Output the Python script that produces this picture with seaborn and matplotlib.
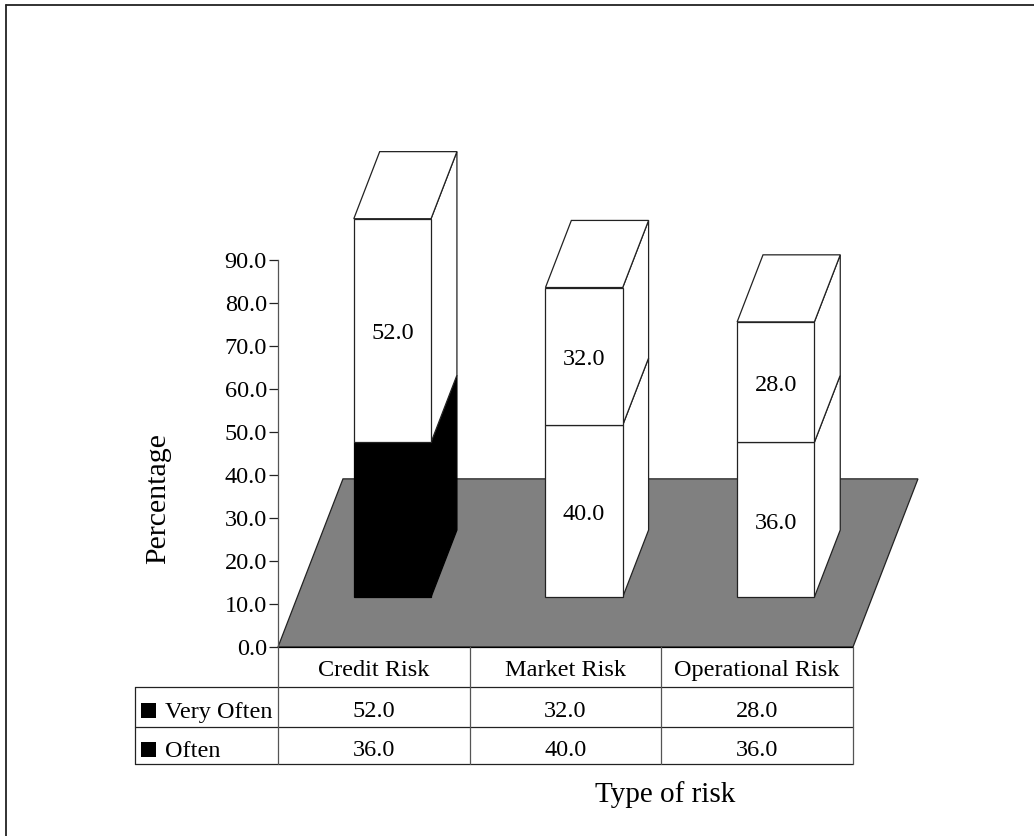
import matplotlib
matplotlib.use("Agg")
import matplotlib.pyplot as plt
from matplotlib.lines import Line2D
from matplotlib.patches import Polygon, Rectangle
import numpy as np
import pandas as pd
import seaborn as sns

# values
categories = ["Credit Risk", "Market Risk", "Operational Risk"]
very_often = [52.0, 32.0, 28.0]
often = [36.0, 40.0, 36.0]
often_colors = ["black", "white", "white"]
y_ticks = [0, 10, 20, 30, 40, 50, 60, 70, 80, 90]

sns.set_theme(style="white")
plt.rcParams["font.family"] = ["Liberation Serif", "DejaVu Serif"]

W, H = 1034, 836
INK = "#222222"
FS = 17.5


def fx(x):
    return x / W


def fy(y):
    return 1 - y / H


fig = plt.figure(figsize=(W / 100, H / 100), dpi=100)
ax = fig.add_axes([fx(278), fy(647), 575 / W, 387 / H])

# bars sit partway back on the floor
base_dx, base_dy = 0.097, 11.6
depth_dx, depth_dy = 0.135, 15.6
floor_dx, floor_dy = 0.339, 39.1
bar_w = 0.403
label_drop = 0.8

df = pd.DataFrame({"cat": categories, "often": often, "very_often": very_often})
df["pos"] = np.arange(len(df)) + base_dx
df["top"] = df["often"] + base_dy

sns.barplot(data=df, x="pos", y="often", native_scale=True, width=bar_w, bottom=base_dy,
            color="white", edgecolor=INK, linewidth=0.9, saturation=1, zorder=3,
            clip_on=False, ax=ax)
n_often = len(ax.patches)
sns.barplot(data=df, x="pos", y="very_often", native_scale=True, width=bar_w, bottom=df["top"].values,
            color="white", edgecolor=INK, linewidth=0.9, saturation=1, zorder=3,
            clip_on=False, ax=ax)
for patch, c in zip(ax.patches[:n_often], often_colors):
    patch.set_facecolor(c)
    if c == "black":
        patch.set_edgecolor("black")

ax.set_xlim(-0.5, 2.5)
ax.set_ylim(0, 90)

# floor
ax.add_patch(Polygon([(-0.5, 0), (2.5, 0), (2.5 + floor_dx, floor_dy), (-0.5 + floor_dx, floor_dy)],
                     closed=True, facecolor="#808080", edgecolor=INK, linewidth=0.9,
                     zorder=1, clip_on=False))


def side(x, y0, y1, color):
    edge = "black" if color == "black" else INK
    ax.add_patch(Polygon([(x, y0), (x + depth_dx, y0 + depth_dy),
                          (x + depth_dx, y1 + depth_dy), (x, y1)],
                         closed=True, facecolor=color, edgecolor=edge, linewidth=0.9,
                         zorder=2.5, clip_on=False))


for i, row in df.iterrows():
    left = row["pos"] - bar_w / 2
    right = row["pos"] + bar_w / 2
    top = row["top"] + row["very_often"]
    side(right, base_dy, row["top"], often_colors[i])
    side(right, row["top"], top, "white")
    # lid
    ax.add_patch(Polygon([(left, top), (right, top), (right + depth_dx, top + depth_dy),
                          (left + depth_dx, top + depth_dy)],
                         closed=True, facecolor="white", edgecolor=INK, linewidth=0.9,
                         zorder=2.5, clip_on=False))
    ax.text(row["pos"], row["top"] + row["very_often"] / 2 - label_drop, f"{row['very_often']:.1f}",
            ha="center", va="center", fontsize=FS, color="black", zorder=5)
    if often_colors[i] == "white":
        ax.text(row["pos"], base_dy + row["often"] / 2 - label_drop, f"{row['often']:.1f}",
                ha="center", va="center", fontsize=FS, color="black", zorder=5)

ax.set_xticks([])
ax.set_yticks(y_ticks)
ax.set_yticklabels([f"{t:.1f}" for t in y_ticks], fontsize=FS, color="black")
ax.tick_params(axis="y", left=True, length=6.5, width=0.9, color=INK, pad=1.5)
ax.set_xlabel("")
ax.set_ylabel("")
ax.patch.set_alpha(0)
for s in ["top", "right", "bottom"]:
    ax.spines[s].set_visible(False)
ax.spines["left"].set_color("#555555")
ax.spines["left"].set_linewidth(0.9)


def line(x0, y0, x1, y1, color=INK, lw=0.9):
    fig.add_artist(Line2D([fx(x0), fx(x1)], [fy(y0), fy(y1)], color=color, linewidth=lw))


# frame of the page, only top and left
line(6, 5, W, 5, lw=1.3)
line(6, 5, 6, H, lw=1.3)

# data table under the chart
col_x = [278, 469.5, 661, 853]
line(278, 647, 853, 647, "black")
line(135, 687, 853, 687)
line(135, 727, 853, 727)
line(135, 764, 853, 764)
line(135, 687, 135, 764)
for x in col_x:
    line(x, 647, x, 764, "#555555")

for i, name in enumerate(categories):
    cx = (col_x[i] + col_x[i + 1]) / 2
    fig.text(fx(cx), fy(676), name, ha="center", va="baseline", fontsize=FS, color="black")
    fig.text(fx(cx), fy(717), f"{very_often[i]:.1f}", ha="center", va="baseline", fontsize=FS, color="black")
    fig.text(fx(cx), fy(756), f"{often[i]:.1f}", ha="center", va="baseline", fontsize=FS, color="black")

for label, sq_top, base in [("Very Often", 703, 718), ("Often", 742, 757)]:
    fig.add_artist(Rectangle((fx(141), fy(sq_top + 15)), 15 / W, 15 / H, transform=fig.transFigure,
                             facecolor="black", edgecolor="none"))
    fig.text(fx(165), fy(base), label, ha="left", va="baseline", fontsize=FS, color="black")

fig.text(fx(158), fy(499), "Percentage", rotation=90, ha="center", va="center", fontsize=21.5, color="black")
fig.text(fx(665.5), fy(802), "Type of risk", ha="center", va="baseline", fontsize=21, color="black")

fig.savefig("out.png", dpi=100)
